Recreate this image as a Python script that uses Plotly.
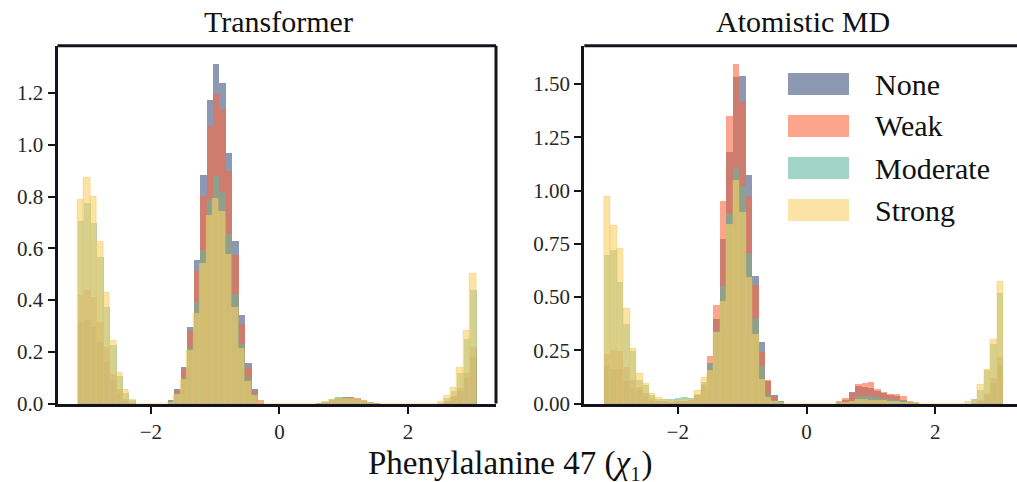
import numpy as np
import plotly.graph_objects as go

# Histogram bins: 62 bins of width 0.1 rad starting at -pi
N_BINS = 62
BIN_WIDTH = 0.1
bin_centers = [-np.pi + BIN_WIDTH * (k + 0.5) for k in range(N_BINS)]

series_names = ["None", "Weak", "Moderate", "Strong"]

# ---- Transformer: density per bin ----
tf_none = (
    [0.316, 0.322, 0.297, 0.237, 0.161, 0.092, 0.042, 0.011, 0.003]
    + [0.0] * 5
    + [0.013, 0.056, 0.141, 0.295, 0.554, 0.886, 1.176, 1.315, 1.241, 0.971, 0.631, 0.342, 0.156, 0.056, 0.005]
    + [0.0] * 8
    + [0.003, 0.008, 0.015, 0.022, 0.025, 0.025, 0.020, 0.012, 0.005, 0.002]
    + [0.0] * 9
    + [0.001, 0.008, 0.025, 0.050, 0.100, 0.180]
)
tf_weak = (
    [0.419, 0.438, 0.411, 0.318, 0.218, 0.116, 0.056, 0.020, 0.005]
    + [0.0] * 5
    + [0.010, 0.048, 0.133, 0.280, 0.512, 0.805, 1.075, 1.199, 1.141, 0.898, 0.577, 0.307, 0.141, 0.048, 0.013]
    + [0.0] * 8
    + [0.002, 0.007, 0.014, 0.020, 0.024, 0.027, 0.021, 0.014, 0.006, 0.002]
    + [0.0] * 9
    + [0.002, 0.010, 0.030, 0.060, 0.120, 0.220]
)
tf_moderate = (
    [0.705, 0.778, 0.700, 0.566, 0.376, 0.229, 0.108, 0.042, 0.013]
    + [0.0] * 5
    + [0.010, 0.041, 0.100, 0.214, 0.393, 0.594, 0.787, 0.882, 0.817, 0.658, 0.426, 0.230, 0.098, 0.037, 0.004]
    + [0.0] * 8
    + [0.002, 0.008, 0.017, 0.026, 0.026, 0.022, 0.018, 0.012, 0.006, 0.002]
    + [0.0] * 9
    + [0.005, 0.022, 0.050, 0.120, 0.250, 0.440]
)
tf_strong = (
    [0.786, 0.872, 0.801, 0.624, 0.430, 0.241, 0.118, 0.052, 0.013]
    + [0.0] * 5
    + [0.005, 0.033, 0.093, 0.203, 0.346, 0.542, 0.724, 0.790, 0.743, 0.577, 0.369, 0.210, 0.083, 0.029, 0.003]
    + [0.0] * 8
    + [0.001, 0.006, 0.013, 0.018, 0.019, 0.019, 0.016, 0.010, 0.004, 0.001]
    + [0.0] * 9
    + [0.007, 0.029, 0.062, 0.140, 0.280, 0.500]
)

# ---- Atomistic MD: density per bin ----
md_none = (
    [0.181, 0.165, 0.165, 0.106, 0.073, 0.063, 0.035, 0.020, 0.012, 0.010, 0.010, 0.012, 0.015, 0.018]
    + [0.040, 0.090, 0.190, 0.398, 0.772, 1.184, 1.533, 1.541, 1.076, 0.598, 0.289, 0.105, 0.040, 0.012]
    + [0.0] * 8
    + [0.010, 0.020, 0.054, 0.082, 0.079, 0.076, 0.059, 0.051, 0.043, 0.035, 0.020, 0.008, 0.003]
    + [0.0] * 7
    + [0.0, 0.003, 0.012, 0.040, 0.100, 0.180]
)
md_weak = (
    [0.232, 0.251, 0.246, 0.171, 0.110, 0.077, 0.049, 0.025, 0.015, 0.012, 0.010, 0.012, 0.015, 0.020]
    + [0.040, 0.095, 0.223, 0.462, 0.954, 1.353, 1.597, 1.419, 0.978, 0.556, 0.242, 0.110, 0.035, 0.010]
    + [0.0] * 8
    + [0.013, 0.027, 0.051, 0.091, 0.098, 0.102, 0.071, 0.054, 0.048, 0.045, 0.035, 0.013, 0.004]
    + [0.0] * 7
    + [0.0, 0.004, 0.016, 0.050, 0.120, 0.220]
)
md_moderate = (
    [0.701, 0.720, 0.570, 0.377, 0.246, 0.110, 0.087, 0.040, 0.022, 0.024, 0.022, 0.025, 0.030, 0.027]
    + [0.046, 0.101, 0.193, 0.340, 0.552, 0.893, 1.106, 1.022, 0.706, 0.402, 0.177, 0.048, 0.016, 0.012]
    + [0.0] * 8
    + [0.003, 0.006, 0.013, 0.035, 0.035, 0.035, 0.032, 0.024, 0.021, 0.016, 0.016, 0.009, 0.007]
    + [0.0] * 7
    + [0.003, 0.021, 0.066, 0.157, 0.280, 0.520]
)
md_strong = (
    [0.969, 0.837, 0.725, 0.443, 0.256, 0.138, 0.093, 0.045, 0.025, 0.020, 0.015, 0.015, 0.020, 0.020]
    + [0.059, 0.123, 0.152, 0.332, 0.478, 0.839, 1.045, 0.898, 0.593, 0.321, 0.110, 0.027, 0.010, 0.005]
    + [0.0] * 8
    + [0.002, 0.004, 0.008, 0.020, 0.020, 0.013, 0.013, 0.012, 0.010, 0.008, 0.006, 0.003, 0.002]
    + [0.0] * 7
    + [0.007, 0.010, 0.087, 0.160, 0.300, 0.570]
)

for arr in (tf_none, tf_weak, tf_moderate, tf_strong, md_none, md_weak, md_moderate, md_strong):
    assert len(arr) == N_BINS

ALPHA = 0.6
base_colors = {
    "None": (65, 83, 128),
    "Weak": (250, 105, 63),
    "Moderate": (100, 185, 160),
    "Strong": (248, 207, 105),
}


def rgba(name, a=ALPHA):
    r, g, b = base_colors[name]
    return f"rgba({r},{g},{b},{a})"


FONT = "Liberation Serif"
SPINE = "#15141e"
W, H = 1017, 482

fig = go.Figure()

panels = [
    ("x", "y", [tf_none, tf_weak, tf_moderate, tf_strong]),
    ("x2", "y2", [md_none, md_weak, md_moderate, md_strong]),
]
for xa, ya, data in panels:
    for name, vals in zip(series_names, data):
        line = dict(width=0)
        if name == "Strong":
            line = dict(width=0.7, color="rgba(238,196,70,0.55)")
        fig.add_trace(go.Bar(
            x=bin_centers, y=vals, width=BIN_WIDTH, name=name,
            marker=dict(color=rgba(name), line=line),
            xaxis=xa, yaxis=ya, showlegend=False,
        ))

y_dom = [1 - 403.5 / H, 1 - 45.7 / H]
axis_common = dict(
    ticks="outside", ticklen=7, tickwidth=1.6, tickcolor=SPINE,
    showline=True, linecolor=SPINE, linewidth=3,
    showgrid=False, zeroline=False, automargin=False,
    tickfont=dict(family=FONT, size=21, color="#262626"),
)

fig.update_layout(
    width=W, height=H, autosize=False,
    margin=dict(l=0, r=0, t=0, b=0),
    paper_bgcolor="white", plot_bgcolor="white",
    barmode="overlay", bargap=0,
    xaxis=dict(domain=[57.5 / W, 496 / W], range=[-3.452, 3.368],
               tickvals=[-2, 0, 2], anchor="y", **axis_common),
    yaxis=dict(domain=y_dom, range=[0, 1.383],
               tickvals=[0, 0.2, 0.4, 0.6, 0.8, 1.0, 1.2], tickformat=".1f",
               anchor="x", **axis_common),
    xaxis2=dict(domain=[584.3 / W, 1.0], range=[-3.452, 3.269],
                tickvals=[-2, 0, 2], anchor="y2", **axis_common),
    yaxis2=dict(domain=y_dom, range=[0, 1.68],
                tickvals=[0, 0.25, 0.5, 0.75, 1.0, 1.25, 1.5], tickformat=".2f",
                anchor="x2", **axis_common),
)

# top spines for both panels, right spine for the left panel
shapes = [
    dict(type="line", xref="x domain", yref="y domain", x0=0, x1=1, y0=1, y1=1,
         line=dict(color=SPINE, width=3)),
    dict(type="line", xref="x domain", yref="y domain", x0=1, x1=1, y0=0, y1=1,
         line=dict(color=SPINE, width=3)),
    dict(type="line", xref="x2 domain", yref="y2 domain", x0=0, x1=1, y0=1, y1=1,
         line=dict(color=SPINE, width=3)),
]

annotations = [
    dict(text="Transformer", x=278 / W, y=1 - 22 / H, xref="paper", yref="paper",
         xanchor="center", yanchor="middle", showarrow=False,
         font=dict(family=FONT, size=30, color="#111")),
    dict(text="Atomistic MD", x=803 / W, y=1 - 22 / H, xref="paper", yref="paper",
         xanchor="center", yanchor="middle", showarrow=False,
         font=dict(family=FONT, size=30, color="#111")),
    dict(text="Phenylalanine 47 (<i>χ</i>₁)", x=510 / W, y=1 - 463 / H,
         xref="paper", yref="paper", xanchor="center", yanchor="middle",
         showarrow=False, font=dict(family=FONT, size=33, color="#111")),
]

# legend drawn as patches with labels inside the right panel
legend_rows = [84, 126, 168, 210]
for name, yc in zip(series_names, legend_rows):
    shapes.append(dict(
        type="rect", xref="paper", yref="paper",
        x0=788 / W, x1=849 / W, y0=1 - (yc + 11) / H, y1=1 - (yc - 11) / H,
        fillcolor=rgba(name), line=dict(width=0),
    ))
    annotations.append(dict(
        text=name, x=873 / W, y=1 - yc / H, xref="paper", yref="paper",
        xanchor="left", yanchor="middle", showarrow=False,
        font=dict(family=FONT, size=30, color="#111"),
    ))

fig.update_layout(shapes=shapes, annotations=annotations)

fig.write_html("out.html")
